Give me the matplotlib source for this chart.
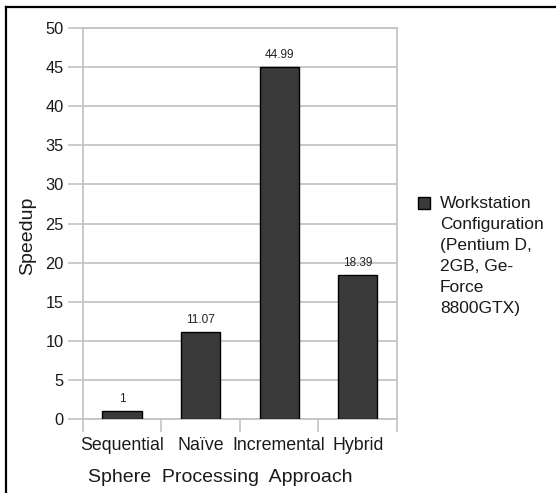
import matplotlib
matplotlib.use("Agg")
import matplotlib.pyplot as plt
from matplotlib.lines import Line2D
from matplotlib.patches import Rectangle

plt.rcParams['font.family'] = ['Liberation Sans', 'DejaVu Sans']

categories = ["Sequential", "Naïve", "Incremental", "Hybrid"]
speedup = [1.0, 11.07, 44.99, 18.39]
value_labels = ["1", "11.07", "44.99", "18.39"]
yticks = [0, 5, 10, 15, 20, 25, 30, 35, 40, 45, 50]
legend_label = "Workstation\nConfiguration\n(Pentium D,\n2GB, Ge-\nForce\n8800GTX)"

bar_color = "#3a3a3a"
grid_color = "#c4c4c4"
W, H = 556, 493

fig = plt.figure(figsize=(5.56, 4.93), dpi=100)
ax = fig.add_axes([0.149, 0.150, 0.565, 0.793])

x = range(len(categories))
ax.bar(x, speedup, width=0.5, color=bar_color, edgecolor="black", linewidth=1.0, zorder=3)

for xi, v, lab in zip(x, speedup, value_labels):
    ax.text(xi, v + 1.6, lab, ha="center", va="center", fontsize=8.5, color="#222222")

ax.set_ylim(0, 50)
ax.set_xlim(-0.5, len(categories) - 0.5)
ax.set_yticks(yticks)
ax.set_yticklabels([str(t) for t in yticks], fontsize=11.8, color="#1a1a1a")
ax.yaxis.grid(True, color=grid_color, linewidth=1.3, zorder=0)
ax.set_axisbelow(True)

# ticks sit between categories, labels sit under bars
ax.set_xticks([i - 0.5 for i in range(len(categories) + 1)])
ax.set_xticklabels([])
ax.set_xticks(list(x), minor=True)
ax.set_xticklabels(categories, minor=True, fontsize=12.8, color="#1a1a1a")
ax.tick_params(axis="x", which="major", length=9, width=1.2, color=grid_color)
ax.tick_params(axis="x", which="minor", length=0, pad=13)
ax.tick_params(axis="y", length=11, width=1.2, color=grid_color, pad=3)

for sp in ax.spines.values():
    sp.set_color(grid_color)
    sp.set_linewidth(1.3)

fig.text(0.397, 0.032, "Sphere  Processing  Approach", ha="center", va="center",
         fontsize=14, color="#1a1a1a")
fig.text(0.049, 0.521, "Speedup", rotation=90, ha="center", va="center",
         fontsize=14, color="#1a1a1a")

# legend drawn by hand so the key lines up with the first text line
fig.add_artist(Rectangle((418 / W, 1 - 209 / H), 12 / W, 12 / H, facecolor=bar_color,
                         edgecolor="black", linewidth=1.0, transform=fig.transFigure))
fig.text(440 / W, 1 - 196 / H, legend_label, ha="left", va="top", fontsize=12.5,
         linespacing=1.5, color="#1a1a1a")

# frame lines on top and left of the picture
fig.add_artist(Line2D([6 / W, 6 / W], [0, 1 - 7 / H], color="black", linewidth=1.6,
                      transform=fig.transFigure))
fig.add_artist(Line2D([6 / W, 1], [1 - 7 / H, 1 - 7 / H], color="black", linewidth=1.6,
                      transform=fig.transFigure))

fig.savefig("out.png", dpi=100)
